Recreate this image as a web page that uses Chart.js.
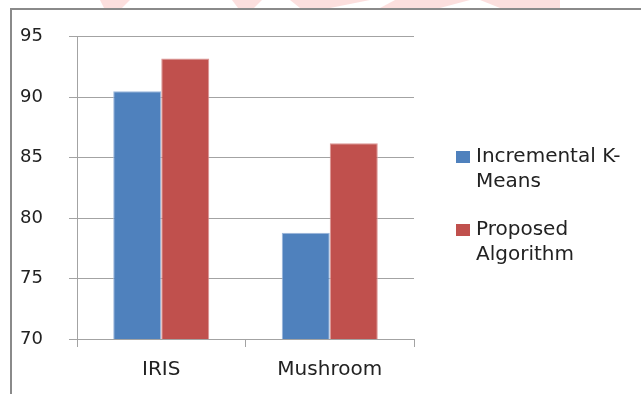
<!DOCTYPE html>
<html>
<head>
<meta charset="utf-8">
<script src="https://cdn.jsdelivr.net/npm/chart.js@4/dist/chart.umd.min.js"></script>
<style>
  html, body { margin: 0; padding: 0; background: #ffffff; }
  #wrap { width: 641px; height: 394px; position: relative; }
</style>
</head>
<body>
<div id="wrap"><canvas id="c" width="641" height="394"></canvas></div>
<script>
// Data
const categories = ['IRIS', 'Mushroom'];
const incrementalKMeans = [90.5, 78.8];
const proposedAlgorithm = [93.2, 86.2];
const seriesNames = ['Incremental K-Means', 'Proposed Algorithm'];
const legendLines = [['Incremental K-', 'Means'], ['Proposed', 'Algorithm']];
const yTicks = [70, 75, 80, 85, 90, 95];

const FONT = '"DejaVu Sans", Verdana, sans-serif';
const TEXT = '#222222';
const GRID = '#a3a3a3';

// Frame and faint header artwork behind the chart
const framePlugin = {
  id: 'frame',
  beforeDraw(chart) {
    const ctx = chart.ctx;
    ctx.save();
    ctx.fillStyle = 'rgba(245, 150, 145, 0.3)';
    const shapes = [
      [[100, 0], [130, 0], [122, 8], [104, 8]],
      [[232, 0], [262, 0], [254, 8], [238, 8]],
      [[290, 0], [370, 0], [330, 8], [300, 8]],
      [[395, 0], [470, 0], [440, 8], [380, 8]],
      [[480, 0], [560, 0], [560, 8], [500, 8]]
    ];
    shapes.forEach(s => {
      ctx.beginPath();
      ctx.moveTo(s[0][0], s[0][1]);
      for (let i = 1; i < s.length; i++) ctx.lineTo(s[i][0], s[i][1]);
      ctx.closePath();
      ctx.fill();
    });
    ctx.strokeStyle = '#8a8a8a';
    ctx.lineWidth = 2;
    ctx.beginPath();
    ctx.moveTo(11, 394);
    ctx.lineTo(11, 9);
    ctx.lineTo(641, 9);
    ctx.stroke();
    ctx.restore();
  }
};

// Legend drawn to the right of the plot, with wrapped labels
const sideLegend = {
  id: 'sideLegend',
  afterDraw(chart) {
    const ctx = chart.ctx;
    ctx.save();
    ctx.font = '20px ' + FONT;
    ctx.textBaseline = 'alphabetic';
    ctx.textAlign = 'left';
    const blockTops = [151, 224];
    chart.data.datasets.forEach((ds, i) => {
      const top = blockTops[i];
      ctx.fillStyle = ds.backgroundColor;
      ctx.fillRect(456, top, 14, 12);
      ctx.fillStyle = TEXT;
      legendLines[i].forEach((line, j) => {
        ctx.fillText(line, 476, top + 11 + j * 25);
      });
    });
    ctx.restore();
  }
};

new Chart(document.getElementById('c'), {
  type: 'bar',
  data: {
    labels: categories,
    datasets: [
      {
        label: seriesNames[0],
        data: incrementalKMeans,
        backgroundColor: '#4f81bd',
        borderColor: '#9bb7dc',
        borderWidth: 1
      },
      {
        label: seriesNames[1],
        data: proposedAlgorithm,
        backgroundColor: '#c0504d',
        borderColor: '#dc9593',
        borderWidth: 1
      }
    ]
  },
  options: {
    responsive: false,
    animation: false,
    devicePixelRatio: 1,
    layout: { padding: { left: 0, right: 227, top: 35, bottom: 0 } },
    plugins: {
      legend: { display: false },
      tooltip: { enabled: false }
    },
    datasets: {
      bar: { barPercentage: 1.0, categoryPercentage: 0.57 }
    },
    scales: {
      x: {
        afterFit(scale) { scale.height = 55; },
        grid: {
          drawOnChartArea: false,
          drawTicks: true,
          tickLength: 8,
          color: GRID,
          offset: true
        },
        border: { display: true, color: GRID, width: 1 },
        ticks: {
          color: TEXT,
          font: { family: FONT, size: 20 },
          padding: 11
        }
      },
      y: {
        min: 70,
        max: 95,
        afterFit(scale) { scale.width = 77; },
        afterBuildTicks(scale) { scale.ticks = yTicks.map(v => ({ value: v })); },
        grid: {
          color: GRID,
          tickLength: 8,
          drawTicks: true
        },
        border: { display: true, color: GRID, width: 1 },
        ticks: {
          color: TEXT,
          font: { family: FONT, size: 18 },
          padding: 26,
          stepSize: 5
        }
      }
    }
  },
  plugins: [framePlugin, sideLegend]
});
</script>
</body>
</html>
